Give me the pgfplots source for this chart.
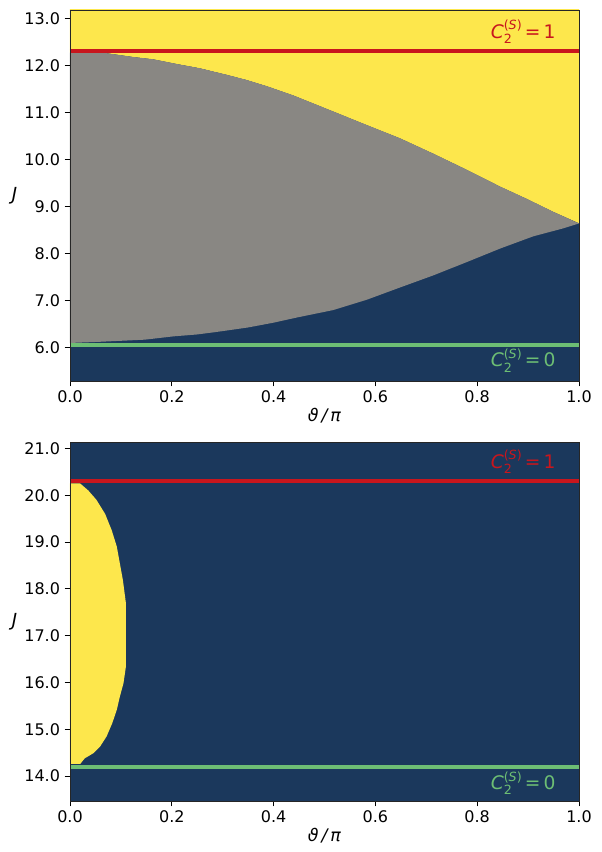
\documentclass[border=0pt]{standalone}
\usepackage{fontspec}
\setmainfont{DejaVu Sans}
\usepackage{pgfplots}
\pgfplotsset{compat=1.18}
\definecolor{navy}{RGB}{27,56,92}
\definecolor{pgray}{RGB}{137,135,131}
\definecolor{pyellow}{RGB}{253,231,76}
\definecolor{pred}{RGB}{200,22,29}
\definecolor{pgreen}{RGB}{109,190,116}
\newcommand{\Ctwo}[1]{\textit{C}\rlap{\raisebox{-0.5ex}{\fontsize{9.5}{10}\selectfont 2}}\raisebox{0.85ex}{\fontsize{9.5}{10}\selectfont(\textit{S})}\,=\,#1}
\pgfplotsset{
  phase/.style={
    scale only axis,
    width=381.75pt,
    xmin=0, xmax=1,
    axis on top,
    axis background/.style={fill=navy},
    tick align=outside,
    xtick pos=bottom, ytick pos=left,
    major tick length=4pt,
    tick style={black, line width=0.6pt},
    axis line style={line width=0.6pt, black!85},
    xtick={0,0.2,0.4,0.6,0.8,1},
    /pgf/number format/assume math mode=true,
    xticklabel style={/pgf/number format/.cd, fixed, fixed zerofill, precision=1},
    yticklabel style={/pgf/number format/.cd, fixed, fixed zerofill, precision=1},
    tick label style={font=\fontsize{12}{14}\selectfont},
    xlabel={\textit{ϑ\,/\,π}},
    xlabel style={font=\fontsize{13}{15}\selectfont, yshift=3pt},
    ylabel={\textit{J}},
    every axis y label/.style={at={(axis description cs:0,0.5)}, anchor=east, xshift=-36pt, font=\fontsize{13.5}{15}\selectfont},
  }
}
\begin{document}
\begin{tikzpicture}
\begin{axis}[phase, at={(0,0)}, anchor=north west, height=278.25pt,
  ymin=5.28, ymax=13.18, ytick={6,7,8,9,10,11,12,13}]
% yellow region (above upper boundary)
\addplot[fill=pyellow, draw=none] coordinates {
(0,12.27) (0.072,12.26) (0.124,12.18) (0.164,12.13) (0.21,12.03) (0.255,11.94)
(0.308,11.80) (0.347,11.69) (0.386,11.56) (0.439,11.36) (0.517,11.02) (0.583,10.73)
(0.648,10.45) (0.714,10.12) (0.779,9.78) (0.845,9.42) (0.897,9.16) (0.95,8.88) (1,8.64)
(1,13.3) (0,13.3) (0,12.27)};
% gray region (between boundaries)
\addplot[fill=pgray, draw=none] coordinates {
(0,6.09) (0.049,6.11) (0.147,6.16) (0.203,6.23) (0.249,6.27) (0.285,6.32) (0.318,6.37)
(0.35,6.42) (0.399,6.52) (0.445,6.63) (0.517,6.79) (0.583,7.01) (0.648,7.27) (0.714,7.53)
(0.779,7.81) (0.845,8.10) (0.910,8.36) (0.969,8.53) (1,8.635)
(0.95,8.88) (0.897,9.16) (0.845,9.42) (0.779,9.78) (0.714,10.12) (0.648,10.45)
(0.583,10.73) (0.517,11.02) (0.439,11.36) (0.386,11.56) (0.347,11.69) (0.308,11.80)
(0.255,11.94) (0.21,12.03) (0.164,12.13) (0.124,12.18) (0.072,12.26) (0,12.27) (0,6.09)};
\addplot[pred, line width=3.2pt] coordinates {(0,12.31) (1,12.31)};
\addplot[pgreen, line width=3pt] coordinates {(0,6.05) (1,6.05)};
\node[anchor=base east, text=pred, font=\fontsize{14}{16}\selectfont] at (axis cs:0.963,12.58) {\Ctwo{1}};
\node[anchor=base east, text=pgreen, font=\fontsize{14}{16}\selectfont] at (axis cs:0.963,5.58) {\Ctwo{0}};
\end{axis}
\begin{axis}[phase, at={(0,-324.2pt)}, anchor=north west, height=269pt,
  ymin=13.47, ymax=21.13, ytick={14,15,16,17,18,19,20,21}]
\addplot[fill=pyellow, draw=none] coordinates {
(0,14.26) (0.02,14.26) (0.029,14.38) (0.046,14.49) (0.059,14.63) (0.072,14.85) (0.083,15.13)
(0.092,15.42) (0.098,15.7) (0.105,15.98) (0.108,16.2) (0.11,16.35) (0.11,17.68)
(0.104,18.18) (0.098,18.54) (0.092,18.9) (0.082,19.25) (0.069,19.6) (0.052,19.9)
(0.036,20.1) (0.02,20.25) (0,20.25) (0,14.26)};
\addplot[pred, line width=3.2pt] coordinates {(0,20.31) (1,20.31)};
\addplot[pgreen, line width=3pt] coordinates {(0,14.2) (1,14.2)};
\node[anchor=base east, text=pred, font=\fontsize{14}{16}\selectfont] at (axis cs:0.963,20.57) {\Ctwo{1}};
\node[anchor=base east, text=pgreen, font=\fontsize{14}{16}\selectfont] at (axis cs:0.963,13.71) {\Ctwo{0}};
\end{axis}
\path (-52.5pt,7.5pt) rectangle (398.25pt,-631.5pt);
\end{tikzpicture}
\end{document}
